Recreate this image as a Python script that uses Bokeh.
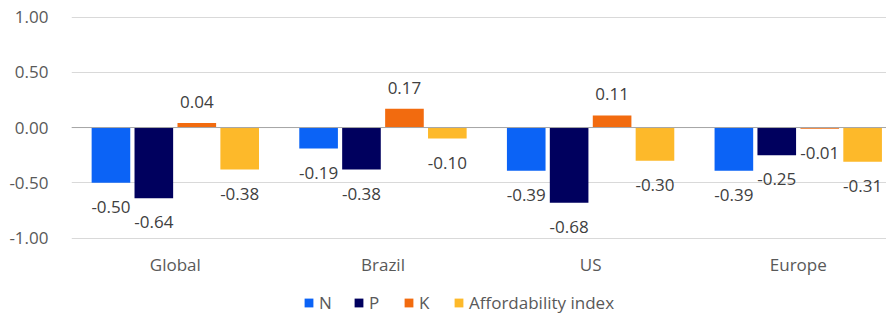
import numpy as np
from bokeh.plotting import figure
from bokeh.models import (Range1d, FixedTicker, NumeralTickFormatter, Legend,
                          LegendItem, Span, ColumnDataSource)
from bokeh.transform import dodge
from bokeh.core.properties import value
from bokeh.embed import file_html
from bokeh.resources import INLINE

# ---- data ----
regions = ["Global", "Brazil", "US", "Europe"]
series = ["N", "P", "K", "Affordability index"]
n_vals = [-0.50, -0.19, -0.39, -0.39]
p_vals = [-0.64, -0.38, -0.68, -0.25]
k_vals = [0.04, 0.17, 0.11, -0.01]
afford_vals = [-0.38, -0.10, -0.30, -0.31]
y_ticks = [-1.0, -0.5, 0.0, 0.5, 1.0]

# ---- style ----
colors = ["#0B63F6", "#00005E", "#F26B0F", "#FDB92A"]
offsets = [-0.31, -0.1035, 0.1035, 0.31]
bar_w = 0.186
FONT = "Open Sans"
FS = "17px"
TICK_COLOR = "#595959"
LABEL_COLOR = "#404040"

# frame spans down to the bottom of the page so the legend sits inside it
p = figure(width=886, height=316, output_backend="svg", toolbar_location=None,
           x_range=Range1d(-0.5, 3.425), y_range=Range1d(-1.71, 1.05),
           min_border_left=71, min_border_right=0, min_border_top=11,
           min_border_bottom=0)
p.outline_line_color = None
p.background_fill_color = "white"

x_idx = list(range(len(regions)))
items = []
for name, vals, col, off in zip(series, [n_vals, p_vals, k_vals, afford_vals], colors, offsets):
    src = ColumnDataSource(dict(
        x=x_idx, y=vals,
        lbl=["%.2f" % v for v in vals],
        yoff=[24 if v < 0 else -21 for v in vals],
    ))
    r = p.vbar(x=dodge("x", off), top="y", bottom=0, width=bar_w, source=src,
               fill_color=col, line_color=None)
    p.text(x=dodge("x", off), y="y", text="lbl", y_offset="yoff", source=src,
           text_align="center", text_baseline="middle",
           text_font=value(FONT), text_font_size=FS, text_color=LABEL_COLOR)
    items.append(LegendItem(label=name, renderers=[r]))

p.add_layout(Span(location=0, dimension="width", line_color="#A6A6A6", line_width=1))

# category labels beneath the lowest gridline
cat_src = ColumnDataSource(dict(x=x_idx, y=[min(y_ticks)] * len(regions), t=regions))
p.text(x="x", y="y", text="t", source=cat_src, y_offset=26,
       text_align="center", text_baseline="middle",
       text_font=value(FONT), text_font_size=FS, text_color=TICK_COLOR)

# axes
p.xaxis.visible = False
p.yaxis.ticker = FixedTicker(ticks=y_ticks)
p.yaxis.formatter = NumeralTickFormatter(format="0.00")
p.yaxis.axis_line_color = None
p.yaxis.major_tick_line_color = None
p.yaxis.minor_tick_line_color = None
p.yaxis.major_label_standoff = 17
p.yaxis.major_label_text_font = FONT
p.yaxis.major_label_text_font_size = FS
p.yaxis.major_label_text_color = TICK_COLOR

p.xgrid.grid_line_color = None
p.ygrid.ticker = FixedTicker(ticks=y_ticks)
p.ygrid.grid_line_color = "#D9D9D9"
p.ygrid.grid_line_width = 1

legend = Legend(items=items, orientation="horizontal", location=(232, 2),
                border_line_color=None, background_fill_alpha=0,
                glyph_width=11, glyph_height=11, label_standoff=5, spacing=14,
                padding=0, margin=0,
                label_text_font=FONT, label_text_font_size=FS,
                label_text_color=TICK_COLOR)
p.add_layout(legend)

open("out.html", "w").write(file_html(p, INLINE))
